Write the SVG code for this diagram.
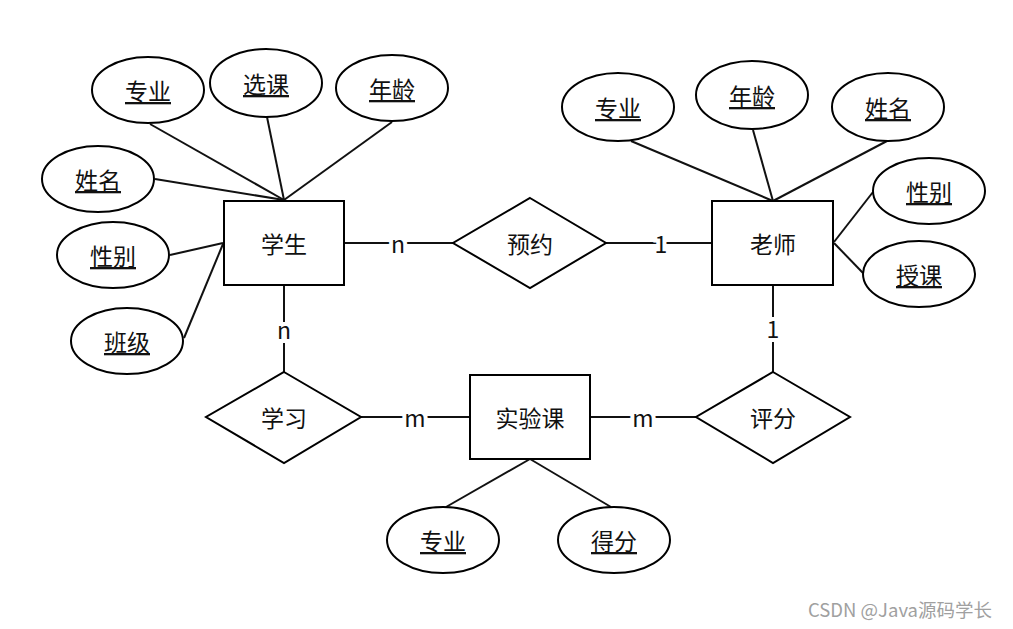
<svg xmlns="http://www.w3.org/2000/svg" width="1013" height="629" viewBox="0 0 1013 629">
<style>
.shape{fill:#fff;stroke:#000;stroke-width:2}
.ln{stroke:#111;stroke-width:2;fill:none}
.t{font-family:"Noto Sans CJK SC","Microsoft YaHei",sans-serif;font-size:23px;fill:#111;text-anchor:middle;dominant-baseline:central}
.u{text-decoration:underline}
.c{font-family:"Noto Sans CJK SC",sans-serif;font-size:23px;fill:#111;text-anchor:middle;dominant-baseline:central;stroke:#fff;stroke-width:8;paint-order:stroke}
.wm{font-family:"Noto Sans CJK SC",sans-serif;font-size:18.5px;fill:#a0a0a0}
</style>
<rect width="1013" height="629" fill="#fff"/>
<g id="connectors">
<line class="ln" x1="150" y1="124" x2="284" y2="200"/>
<line class="ln" x1="267" y1="117" x2="284" y2="200"/>
<line class="ln" x1="392" y1="122" x2="284" y2="200"/>
<line class="ln" x1="155" y1="179" x2="284" y2="200"/>
<line class="ln" x1="170" y1="255" x2="223" y2="243"/>
<line class="ln" x1="184" y1="338" x2="223" y2="244"/>
<line class="ln" x1="631" y1="141" x2="773" y2="201"/>
<line class="ln" x1="753" y1="130" x2="773" y2="201"/>
<line class="ln" x1="887" y1="141" x2="773" y2="201"/>
<line class="ln" x1="873" y1="192" x2="834" y2="242"/>
<line class="ln" x1="863" y1="273" x2="834" y2="243"/>
<line class="ln" x1="530" y1="459" x2="446" y2="507"/>
<line class="ln" x1="530" y1="459" x2="611" y2="507"/>
<line class="ln" x1="344" y1="243" x2="453" y2="243"/>
<line class="ln" x1="606" y1="243" x2="712" y2="243"/>
<line class="ln" x1="284" y1="285" x2="284" y2="372"/>
<line class="ln" x1="773" y1="285" x2="773" y2="372"/>
<line class="ln" x1="361" y1="417" x2="470" y2="417"/>
<line class="ln" x1="590" y1="417" x2="696" y2="417"/>
<text class="c" x="398" y="243">n</text>
<text class="c" x="661" y="243">1</text>
<text class="c" x="284" y="329">n</text>
<text class="c" x="773" y="328">1</text>
<text class="c" x="415" y="417">m</text>
<text class="c" x="643" y="417">m</text>
</g>
<g id="student"><rect class="shape" x="224" y="201" width="120" height="84"/><text class="t" x="284" y="243">学生</text></g>
<g id="teacher"><rect class="shape" x="712" y="201" width="121" height="84"/><text class="t" x="773" y="243">老师</text></g>
<g id="course"><rect class="shape" x="470" y="375" width="120" height="84"/><text class="t" x="530" y="417">实验课</text></g>
<g id="yuyue"><polygon class="shape" points="530,198 606,243 530,288 453,243"/><text class="t" x="530" y="243">预约</text></g>
<g id="xuexi"><polygon class="shape" points="284,372 361,417 284,463 206,417"/><text class="t" x="284" y="417">学习</text></g>
<g id="pingfen"><polygon class="shape" points="773,372 850,417 773,463 696,417"/><text class="t" x="773" y="417">评分</text></g>
<g id="s_zhuanye"><ellipse class="shape" cx="148" cy="90" rx="56" ry="33"/><text class="t u" x="148" y="90">专业</text></g>
<g id="s_xuanke"><ellipse class="shape" cx="266" cy="83" rx="56" ry="34"/><text class="t u" x="266" y="83">选课</text></g>
<g id="s_nianling"><ellipse class="shape" cx="392" cy="88" rx="56" ry="33"/><text class="t u" x="392" y="88">年龄</text></g>
<g id="s_xingming"><ellipse class="shape" cx="98" cy="179" rx="56" ry="33"/><text class="t u" x="98" y="179">姓名</text></g>
<g id="s_xingbie"><ellipse class="shape" cx="113" cy="255" rx="56" ry="33"/><text class="t u" x="113" y="255">性别</text></g>
<g id="s_banji"><ellipse class="shape" cx="127" cy="341" rx="56" ry="33"/><text class="t u" x="127" y="341">班级</text></g>
<g id="t_zhuanye"><ellipse class="shape" cx="618" cy="107" rx="56" ry="34"/><text class="t u" x="618" y="107">专业</text></g>
<g id="t_nianling"><ellipse class="shape" cx="752" cy="95" rx="56" ry="34"/><text class="t u" x="752" y="95">年龄</text></g>
<g id="t_xingming"><ellipse class="shape" cx="888" cy="107" rx="56" ry="34"/><text class="t u" x="888" y="107">姓名</text></g>
<g id="t_xingbie"><ellipse class="shape" cx="929" cy="191" rx="56" ry="33"/><text class="t u" x="929" y="191">性别</text></g>
<g id="t_shouke"><ellipse class="shape" cx="919" cy="274" rx="56" ry="33"/><text class="t u" x="919" y="274">授课</text></g>
<g id="c_zhuanye"><ellipse class="shape" cx="443" cy="540" rx="56" ry="33"/><text class="t u" x="443" y="540">专业</text></g>
<g id="c_defen"><ellipse class="shape" cx="614" cy="540" rx="56" ry="33"/><text class="t u" x="614" y="540">得分</text></g>
<text class="wm" x="808" y="617">CSDN @Java源码学长</text>
</svg>
